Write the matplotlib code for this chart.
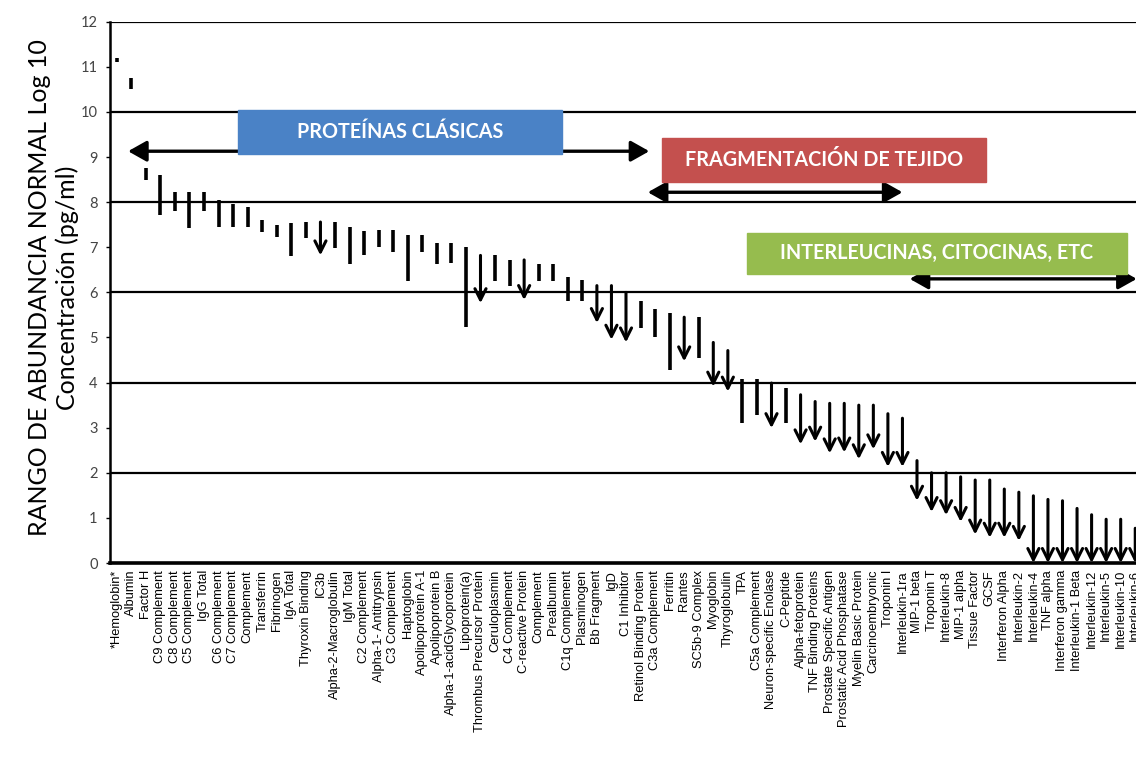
import matplotlib
matplotlib.use("Agg")
import matplotlib.pyplot as plt

labels = ["*Hemoglobin*", "Albumin", "Factor H", "C9 Complement", "C8 Complement",
          "C5 Complement", "IgG Total", "C6 Complement", "C7 Complement", "Complement",
          "Transferrin", "Fibrinogen", "IgA Total", "Thyroxin Binding", "IC3b",
          "Alpha-2-Macroglobulin", "IgM Total", "C2 Complement", "Alpha-1- Antitrypsin",
          "C3 Complement", "Haptoglobin", "Apolipoprotein A-1", "Apolipoprotein B",
          "Alpha-1-acidGlycoprotein", "Lipoprotein(a)", "Thrombus Precursor Protein",
          "Ceruloplasmin", "C4 Complement", "C-reactive Protein", "Complement",
          "Prealbumin", "C1q Complement", "Plasminogen", "Bb Fragment", "IgD",
          "C1 Inhibitor", "Retinol Binding Protein", "C3a Complement", "Ferritin",
          "Rantes", "SC5b-9 Complex", "Myoglobin", "Thyroglobulin", "TPA",
          "C5a Complement", "Neuron-specific Enolase", "C-Peptide", "Alpha-fetoprotein",
          "TNF Binding Proteins", "Prostate Specific Antigen", "Prostatic Acid Phosphatase",
          "Myelin Basic Protein", "Carcinoembryonic", "Troponin I", "Interleukin-1ra",
          "MIP-1 beta", "Troponin T", "Interleukin-8", "MIP-1 alpha", "Tissue Factor",
          "GCSF", "Interferon Alpha", "Interleukin-2", "Interleukin-4", "TNF alpha",
          "Interferon gamma", "Interleukin-1 Beta", "Interleukin-12", "Interleukin-5",
          "Interleukin-10", "Interleukin-6"]

high = [11.2, 10.75, 8.75, 8.6, 8.23, 8.23, 8.23, 8.05, 7.95, 7.9,
        7.6, 7.5, 7.54, 7.55, 7.56, 7.56, 7.45, 7.37, 7.38, 7.38,
        7.28, 7.28, 7.1, 7.1, 7.0, 6.82, 6.82, 6.72, 6.72, 6.63,
        6.63, 6.35, 6.27, 6.15, 6.15, 6.0, 5.8, 5.63, 5.54, 5.45,
        5.45, 4.89, 4.71, 4.07, 4.07, 3.99, 3.87, 3.73, 3.58, 3.54,
        3.54, 3.5, 3.5, 3.31, 3.21, 2.27, 2.0, 2.0, 1.91, 1.84,
        1.84, 1.64, 1.57, 1.49, 1.41, 1.38, 1.21, 1.07, 0.97, 0.97,
        0.77]

low = [11.1, 10.5, 8.5, 7.72, 7.8, 7.42, 7.8, 7.45, 7.45, 7.45,
       7.35, 7.23, 6.8, 7.2, 6.82, 6.98, 6.62, 6.82, 7.0, 6.9,
       6.25, 6.9, 6.64, 6.65, 5.24, 5.76, 6.25, 6.15, 5.83, 6.25,
       6.25, 5.82, 5.82, 5.32, 4.95, 4.89, 5.21, 5.0, 4.28, 4.47,
       4.54, 3.91, 3.8, 3.1, 3.28, 2.99, 3.1, 2.63, 2.69, 2.43,
       2.45, 2.3, 2.52, 2.13, 2.13, 1.38, 1.13, 1.06, 0.91, 0.63,
       0.56, 0.56, 0.49, 0.0, 0.0, 0.0, 0.0, 0.0, 0.0, 0.0,
       0.0]

# 1 = upper bound only (drawn with a downward arrow)
open_low = [0, 0, 0, 0, 0, 0, 0, 0, 0, 0,
            0, 0, 0, 0, 1, 0, 0, 0, 0, 0,
            0, 0, 0, 0, 0, 1, 0, 0, 1, 0,
            0, 0, 0, 1, 1, 1, 0, 0, 0, 1,
            0, 1, 1, 0, 0, 1, 0, 1, 1, 1,
            1, 1, 1, 1, 1, 1, 1, 1, 1, 1,
            1, 1, 1, 1, 1, 1, 1, 1, 1, 1,
            1]

groups = ["PROTEÍNAS CLÁSICAS", "FRAGMENTACIÓN DE TEJIDO", "INTERLEUCINAS, CITOCINAS, ETC"]
group_colors = ["#4a82c6", "#c4504e", "#96bc4e"]
group_span = [(0.78, 36.6), (36.5, 54.0), (54.5, 70.1)]   # double-arrow extents (category units)
group_arrow_y = [9.13, 8.22, 6.3]
group_box_x = [(8.34, 30.6), (37.5, 59.75), (43.3, 69.45)]
group_box_y = [(9.07, 10.05), (8.45, 9.42), (6.41, 7.32)]

fig = plt.figure(figsize=(11.36, 7.72), dpi=100)
ax = fig.add_axes([0.0970, 0.2707, 0.9081, 0.7011])
ax.set_xlim(-0.45, 70.45)
ax.set_ylim(0, 12)

x = list(range(len(labels)))

for lv in range(2, 13, 2):
    ax.axhline(lv, color="black", lw=1.6, zorder=1)

for i in x:
    if open_low[i]:
        ax.annotate("", xy=(i, low[i]), xytext=(i, high[i]),
                    arrowprops=dict(arrowstyle="->,head_length=0.8,head_width=0.4",
                                    lw=2.2, color="black", shrinkA=0, shrinkB=0,
                                    mutation_scale=10),
                    zorder=3)
    else:
        ax.vlines(i, low[i], high[i], color="black", lw=2.6, zorder=3)

for name, col, (x0, x1), ay, (bx0, bx1), (by0, by1) in zip(
        groups, group_colors, group_span, group_arrow_y, group_box_x, group_box_y):
    ax.annotate("", xy=(x1, ay), xytext=(x0, ay),
                arrowprops=dict(arrowstyle="<|-|>,head_length=0.8,head_width=0.45",
                                lw=2.4, color="black", shrinkA=0, shrinkB=0,
                                mutation_scale=14),
                zorder=4, annotation_clip=False)
    ax.add_patch(plt.Rectangle((bx0, by0), bx1 - bx0, by1 - by0, facecolor=col,
                               edgecolor=col, lw=1, zorder=5))
    ax.text((bx0 + bx1) / 2, (by0 + by1) / 2, name, ha="center", va="center",
            color="white", fontsize=14.2, fontweight="bold", family="Lato", zorder=6)

ax.set_xticks(x)
ax.set_xticklabels(labels, rotation=90, fontsize=9.3, family="Liberation Sans",
                   ha="center", va="top")
ax.tick_params(axis="x", length=0, pad=5)
ax.set_yticks(range(0, 13))
ax.set_yticklabels([str(v) for v in range(0, 13)], fontsize=10.5, family="Lato",
                   color="#444444")
ax.tick_params(axis="y", length=3, width=1, pad=6, direction="out")

for s in ["top", "right"]:
    ax.spines[s].set_visible(False)
ax.spines["left"].set_linewidth(1.8)
ax.spines["bottom"].set_linewidth(2.6)

fig.text(0.0345, 0.627, "RANGO DE ABUNDANCIA NORMAL Log 10", rotation=90,
         ha="center", va="center", fontsize=18, family="Lato", color="black")
fig.text(0.0595, 0.627, "Concentración (pg/ml)", rotation=90,
         ha="center", va="center", fontsize=18, family="Lato", color="black")

fig.savefig("out.png", dpi=100, facecolor="white")
